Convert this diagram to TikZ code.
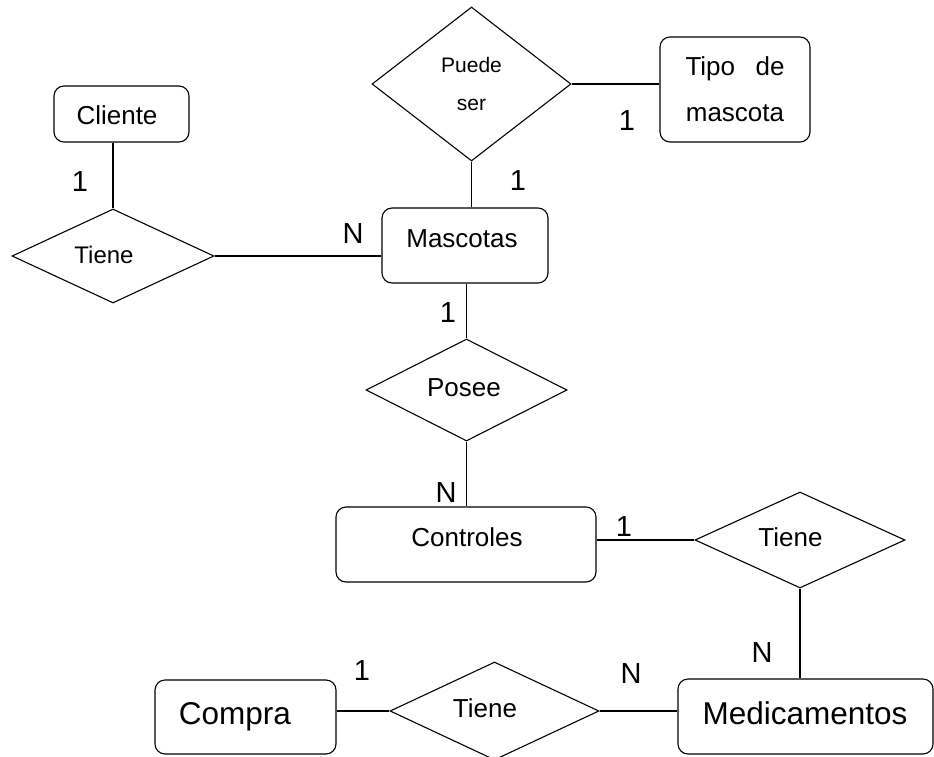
\documentclass[tikz,border=0pt]{standalone}
\usepackage{fontspec}
\setmainfont{Liberation Sans}
\usetikzlibrary{shapes.geometric}
\begin{document}
\begin{tikzpicture}[x=1pt,y=-1pt,
  ent/.style={draw, rounded corners=10pt, line width=1.1pt, inner sep=0pt},
  rel/.style={draw, diamond, line width=1.1pt, inner sep=0pt, aspect=2},
  conn/.style={line width=1.1pt},
  txt/.style={inner sep=0pt, text depth=0pt},
  card/.style={txt, font=\fontsize{29}{34}\selectfont, text height=20.8pt},
  fa/.style={txt, font=\fontsize{26}{31}\selectfont, text height=18.6pt},
  fb/.style={txt, font=\fontsize{31.5}{37}\selectfont, text height=22.6pt},
  fc/.style={txt, font=\fontsize{24}{29}\selectfont, text height=17.2pt}]
\useasboundingbox (0,0) rectangle (934,757);
\clip (0,0) rectangle (934,757);

% entities
\node[ent, minimum width=135pt, minimum height=56pt] (cliente) at (121.5,114) {};
\node[ent, minimum width=166pt, minimum height=75pt] (mascotas) at (465,245.5) {};
\node[ent, minimum width=150pt, minimum height=105pt, align=center,
      font=\fontsize{26}{46}\selectfont] (tipo) at (735,89.5)
      {\makebox[99pt]{Tipo\hfill de}\\mascota};
\node[ent, minimum width=260pt, minimum height=75pt] (controles) at (466,544.5) {};
\node[ent, minimum width=255pt, minimum height=75pt] (medic) at (805.5,716.5) {};
\node[ent, minimum width=181pt, minimum height=74pt] (compra) at (245.5,717) {};

% relationships
\node[rel, minimum width=202pt, minimum height=94pt] (tiene1) at (113,256) {};
\node[rel, minimum width=199pt, minimum height=154pt, align=center,
      font=\fontsize{21}{38}\selectfont] (puede) at (471.5,84) {Puede\\ser};
\node[rel, minimum width=201pt, minimum height=102pt] (posee) at (466.5,390) {};
\node[rel, minimum width=210pt, minimum height=96pt] (tiene2) at (800,540) {};
\node[rel, minimum width=209pt, minimum height=98pt] (tiene3) at (494.5,711) {};

% texts
\node[fa] (tcliente) at (117,115) {Cliente};
\node[fa] (tmascotas) at (462,238) {Mascotas};
\node[fa] (tcontroles) at (467,537) {Controles};
\node[fb] (tmedic) at (805,713) {Medicamentos};
\node[fb] (tcompra) at (235,713) {Compra};
\node[fc] (ttiene1) at (104,255) {Tiene};
\node[fa] (tposee) at (464,387) {Posee};
\node[fa] (ttiene2) at (790.5,537) {Tiene};
\node[fa] (ttiene3) at (485,708) {Tiene};

% connectors
\draw[conn] (tiene1.north |- cliente.south) -- (tiene1.north);
\draw[conn] (tiene1.east) -- (tiene1.east -| mascotas.west);
\draw[conn] (puede.south) -- (puede.south |- mascotas.north);
\draw[conn] (puede.east) -- (puede.east -| tipo.west);
\draw[conn] (posee.north) -- (posee.north |- mascotas.south);
\draw[conn] (posee.south) -- (posee.south |- controles.north);
\draw[conn] (tiene2.west -| controles.east) -- (tiene2.west);
\draw[conn] (tiene2.south) -- (tiene2.south |- medic.north);
\draw[conn] (tiene3.east) -- (tiene3.east -| medic.west);
\draw[conn] (tiene3.west -| compra.east) -- (tiene3.west);

% cardinalities
\node[card] (c1) at (80,181) {1};
\node[card] (c2) at (353,233) {N};
\node[card] (c3) at (518,180) {1};
\node[card] (c4) at (627,120) {1};
\node[card] (c5) at (448,312) {1};
\node[card] (c6) at (446,492) {N};
\node[card] (c7) at (624,526) {1};
\node[card] (c8) at (762,652) {N};
\node[card] (c9) at (631,673) {N};
\node[card] (c10) at (362,670) {1};
\end{tikzpicture}
\end{document}
